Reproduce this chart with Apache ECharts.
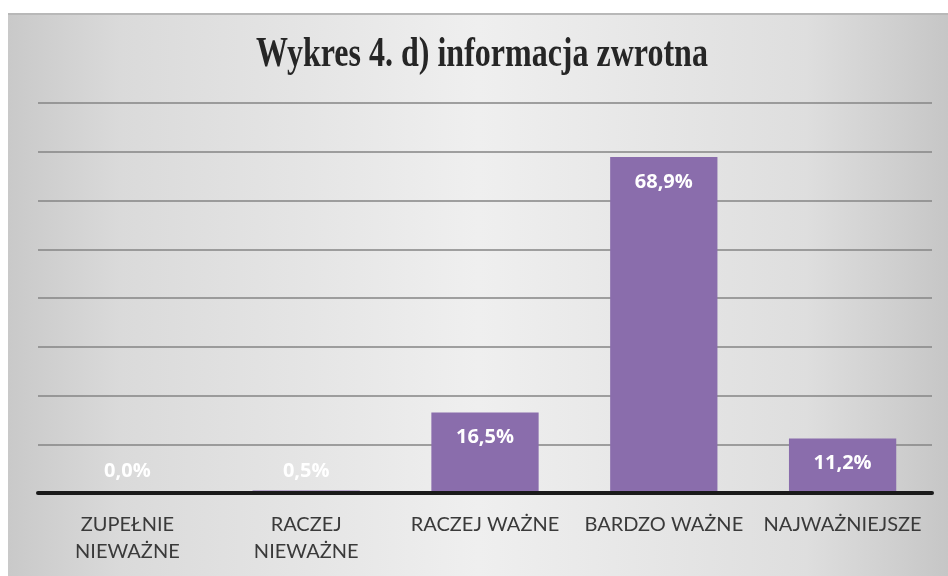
<!DOCTYPE html>
<html>
<head>
<meta charset="utf-8">
<script src="https://cdn.jsdelivr.net/npm/echarts@6/dist/echarts.min.js"></script>
<style>
  html, body { margin: 0; padding: 0; background: #fff; }
  #chart { width: 948px; height: 576px; }
</style>
</head>
<body>
<div id="chart"></div>
<script>
const categories = ["ZUPEŁNIE\nNIEWAŻNE", "RACZEJ\nNIEWAŻNE", "RACZEJ WAŻNE", "BARDZO WAŻNE", "NAJWAŻNIEJSZE"];
const values = [0.0, 0.5, 16.5, 68.9, 11.2];
const titleText = "Wykres 4. d) informacja zwrotna";

const barColor = "#8a6dac";

// small bars get their label above the base, the rest inside the top
const barData = values.map((v) => ({
  value: v,
  label: v < 5
    ? { position: "insideBottom", distance: 12 }
    : { position: "insideTop", distance: 15 },
}));

const chart = echarts.init(document.getElementById("chart"));
chart.setOption({
  animation: false,
  graphic: [
    {
      type: "rect",
      z: -10,
      shape: { x: 8, y: 13, width: 940, height: 563 },
      style: {
        fill: {
          type: "linear", x: 0, y: 0, x2: 1, y2: 0,
          colorStops: [
            { offset: 0, color: "#c9c9c9" },
            { offset: 0.12, color: "#dadada" },
            { offset: 0.5, color: "#efefef" },
            { offset: 0.85, color: "#dedede" },
            { offset: 1, color: "#c6c6c6" },
          ],
        },
      },
    },
    {
      type: "rect",
      z: -9,
      shape: { x: 8, y: 13, width: 940, height: 2 },
      style: { fill: "#b8b8b8" },
    },
    {
      type: "text",
      x: 482,
      y: 55,
      scaleY: 1.3,
      style: {
        text: titleText,
        align: "center",
        verticalAlign: "middle",
        fontFamily: "Liberation Serif",
        fontWeight: "bold",
        fontSize: 32,
        fill: "#262626",
      },
    },
  ],
  grid: { left: 38, right: 16, top: 103, bottom: 83 },
  xAxis: {
    type: "category",
    data: categories,
    z: 5,
    axisLine: { lineStyle: { color: "#1a1a1a", width: 4 } },
    axisTick: { show: false },
    axisLabel: {
      color: "#3a3a3a",
      fontFamily: "Lato",
      fontSize: 20,
      lineHeight: 27,
      margin: 18,
      interval: 0,
    },
  },
  yAxis: {
    type: "value",
    min: 0,
    max: 80,
    interval: 10,
    axisLabel: { show: false },
    axisLine: { show: false },
    axisTick: { show: false },
    splitLine: { lineStyle: { color: "#858585", width: 1.5 } },
  },
  series: [
    {
      type: "bar",
      data: barData,
      barWidth: "60%",
      itemStyle: { color: barColor },
      label: {
        show: true,
        color: "#ffffff",
        fontFamily: "Open Sans",
        fontWeight: "bold",
        fontSize: 20,
        formatter: (p) => p.value.toFixed(1).replace(".", ",") + "%",
      },
    },
  ],
});
</script>
</body>
</html>
